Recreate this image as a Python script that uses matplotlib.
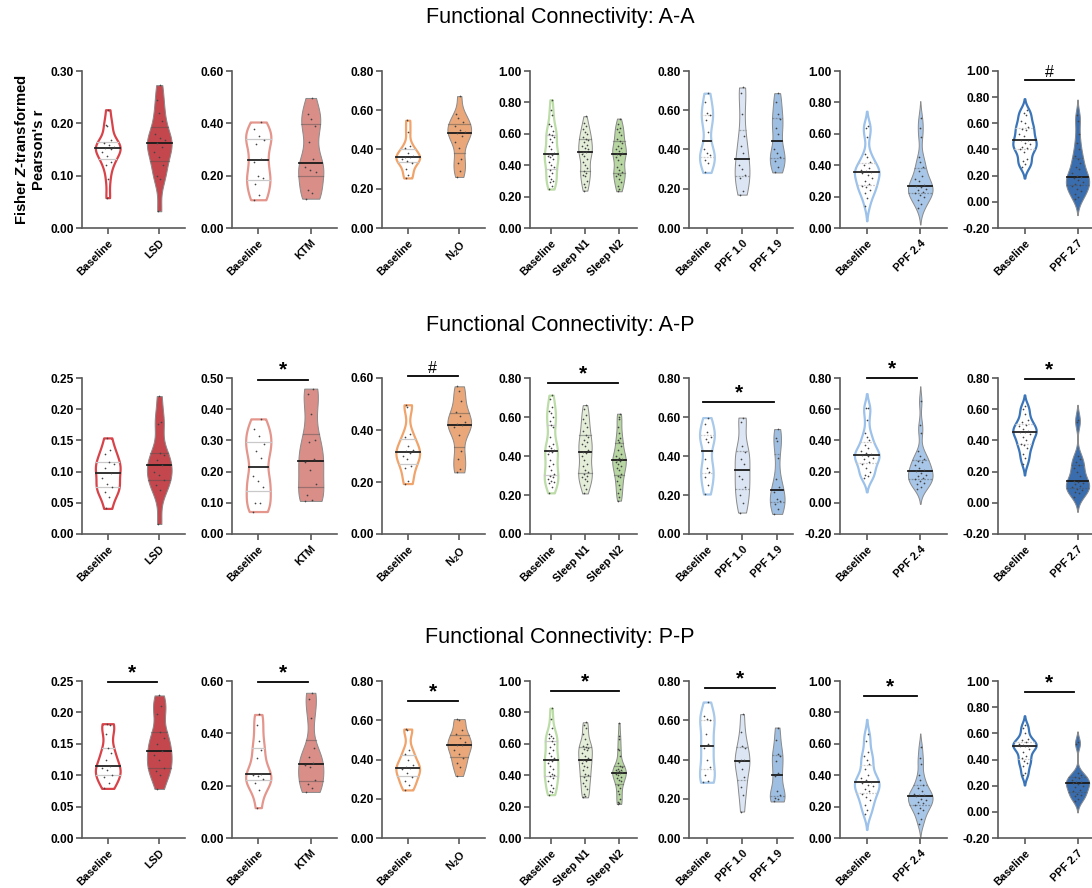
import numpy as np
import matplotlib.pyplot as plt

plt.rcParams['font.family'] = 'Liberation Sans'
plt.rcParams['mathtext.fontset'] = 'custom'
plt.rcParams['mathtext.rm'] = 'Liberation Sans:bold'
plt.rcParams['mathtext.bf'] = 'Liberation Sans:bold'
plt.rcParams['mathtext.it'] = 'Liberation Sans:bold:italic'

TITLES = ['Functional Connectivity: A-A',
          'Functional Connectivity: A-P',
          'Functional Connectivity: P-P']

LABELS = [['Baseline', 'LSD'],
          ['Baseline', 'KTM'],
          ['Baseline', r'N$_2$O'],
          ['Baseline', 'Sleep N1', 'Sleep N2'],
          ['Baseline', 'PPF 1.0', 'PPF 1.9'],
          ['Baseline', 'PPF 2.4'],
          ['Baseline', 'PPF 2.7']]

# ---- A-A ----
aa_lsd_base = [0.226, 0.196, 0.195, 0.168, 0.162, 0.158, 0.155, 0.153, 0.150, 0.145, 0.138, 0.126, 0.120, 0.094, 0.058]
aa_lsd = [0.273, 0.245, 0.220, 0.205, 0.180, 0.172, 0.168, 0.163, 0.155, 0.145, 0.135, 0.120, 0.100, 0.093, 0.032]
aa_ktm_base = [0.405, 0.380, 0.350, 0.335, 0.320, 0.265, 0.253, 0.200, 0.190, 0.170, 0.125, 0.108]
aa_ktm = [0.497, 0.435, 0.415, 0.390, 0.330, 0.265, 0.232, 0.222, 0.215, 0.145, 0.135, 0.112]
aa_n2o_base = [0.549, 0.490, 0.418, 0.410, 0.380, 0.368, 0.364, 0.360, 0.352, 0.340, 0.333, 0.300, 0.270, 0.255]
aa_n2o = [0.672, 0.580, 0.560, 0.540, 0.520, 0.500, 0.490, 0.486, 0.470, 0.440, 0.410, 0.350, 0.330, 0.290, 0.260]
aa_sleep_base = [0.817, 0.750, 0.720, 0.660, 0.650, 0.620, 0.600, 0.595, 0.580, 0.570, 0.550, 0.520, 0.500, 0.480, 0.472,
                 0.466, 0.460, 0.450, 0.440, 0.420, 0.400, 0.390, 0.370, 0.350, 0.330, 0.310, 0.300, 0.290, 0.270, 0.248]
aa_sleep_n1 = [0.712, 0.670, 0.650, 0.630, 0.610, 0.600, 0.580, 0.570, 0.560, 0.550, 0.530, 0.520, 0.510, 0.500, 0.486,
               0.482, 0.470, 0.460, 0.440, 0.420, 0.400, 0.380, 0.360, 0.350, 0.340, 0.330, 0.300, 0.280, 0.260, 0.238]
aa_sleep_n2 = [0.697, 0.660, 0.640, 0.630, 0.610, 0.590, 0.570, 0.555, 0.540, 0.520, 0.510, 0.500, 0.490, 0.480, 0.472,
               0.466, 0.450, 0.430, 0.410, 0.390, 0.370, 0.355, 0.345, 0.340, 0.330, 0.310, 0.290, 0.270, 0.250, 0.234]
aa_ppf_base = [0.687, 0.640, 0.585, 0.575, 0.550, 0.490, 0.400, 0.380, 0.370, 0.345, 0.330, 0.283]
aa_ppf10 = [0.716, 0.690, 0.580, 0.470, 0.420, 0.380, 0.320, 0.300, 0.270, 0.255, 0.190, 0.170]
aa_ppf19 = [0.687, 0.640, 0.580, 0.555, 0.510, 0.480, 0.405, 0.380, 0.360, 0.340, 0.310, 0.283]
aa_ppf24_base = [0.650, 0.640, 0.580, 0.470, 0.450, 0.420, 0.400, 0.380, 0.370, 0.360, 0.356,
                 0.352, 0.340, 0.320, 0.300, 0.280, 0.270, 0.260, 0.240, 0.220, 0.190, 0.140]
aa_ppf24 = [0.700, 0.640, 0.580, 0.450, 0.420, 0.390, 0.360, 0.330, 0.310, 0.300, 0.275,
            0.265, 0.260, 0.250, 0.240, 0.230, 0.220, 0.210, 0.200, 0.180, 0.150, 0.130]
aa_ppf27_base = [0.700, 0.680, 0.660, 0.620, 0.600, 0.570, 0.560, 0.550, 0.520, 0.500, 0.475,
                 0.469, 0.450, 0.440, 0.420, 0.410, 0.400, 0.380, 0.330, 0.310, 0.290, 0.270]
aa_ppf27 = [0.660, 0.620, 0.520, 0.450, 0.400, 0.350, 0.330, 0.300, 0.270, 0.250, 0.220, 0.196,
            0.190, 0.180, 0.170, 0.150, 0.140, 0.130, 0.120, 0.100, 0.080, 0.060, 0.040, 0.020]

# ---- A-P ----
ap_lsd_base = [0.154, 0.135, 0.128, 0.115, 0.112, 0.105, 0.098, 0.090, 0.080, 0.076, 0.068, 0.060, 0.041]
ap_lsd = [0.221, 0.180, 0.177, 0.130, 0.126, 0.118, 0.111, 0.100, 0.094, 0.087, 0.078, 0.070, 0.016]
ap_ktm_base = [0.369, 0.335, 0.315, 0.290, 0.265, 0.245, 0.185, 0.170, 0.150, 0.100, 0.098, 0.072]
ap_ktm = [0.466, 0.450, 0.385, 0.300, 0.295, 0.240, 0.230, 0.205, 0.160, 0.125, 0.110, 0.106]
ap_n2o_base = [0.497, 0.490, 0.385, 0.375, 0.340, 0.325, 0.318, 0.312, 0.300, 0.290, 0.260, 0.255, 0.205, 0.194]
ap_n2o = [0.568, 0.550, 0.510, 0.470, 0.455, 0.430, 0.422, 0.418, 0.410, 0.380, 0.320, 0.290, 0.250, 0.237]
ap_sleep_base = [0.712, 0.690, 0.650, 0.630, 0.620, 0.600, 0.580, 0.560, 0.550, 0.500, 0.460, 0.450, 0.440, 0.430, 0.427,
                 0.423, 0.410, 0.380, 0.360, 0.350, 0.330, 0.310, 0.300, 0.290, 0.280, 0.270, 0.265, 0.260, 0.240, 0.211]
ap_sleep_n1 = [0.661, 0.640, 0.610, 0.590, 0.570, 0.550, 0.530, 0.510, 0.500, 0.480, 0.470, 0.460, 0.450, 0.430, 0.421,
               0.417, 0.400, 0.380, 0.360, 0.350, 0.330, 0.320, 0.310, 0.300, 0.290, 0.280, 0.270, 0.250, 0.230, 0.208]
ap_sleep_n2 = [0.617, 0.600, 0.590, 0.550, 0.520, 0.490, 0.480, 0.470, 0.450, 0.430, 0.410, 0.400, 0.390, 0.385, 0.379,
               0.375, 0.370, 0.360, 0.350, 0.340, 0.330, 0.310, 0.300, 0.290, 0.270, 0.250, 0.230, 0.210, 0.190, 0.171]
ap_ppf_base = [0.597, 0.565, 0.525, 0.500, 0.485, 0.470, 0.386, 0.340, 0.320, 0.290, 0.250, 0.205]
ap_ppf10 = [0.597, 0.575, 0.450, 0.420, 0.385, 0.360, 0.300, 0.280, 0.240, 0.200, 0.160, 0.110]
ap_ppf19 = [0.538, 0.490, 0.475, 0.390, 0.280, 0.240, 0.216, 0.180, 0.170, 0.155, 0.130, 0.103]
ap_ppf24_base = [0.610, 0.605, 0.530, 0.450, 0.420, 0.400, 0.370, 0.350, 0.330, 0.320, 0.310,
                 0.305, 0.300, 0.290, 0.280, 0.260, 0.250, 0.220, 0.200, 0.180, 0.170, 0.160]
ap_ppf24 = [0.650, 0.500, 0.450, 0.330, 0.300, 0.280, 0.270, 0.260, 0.240, 0.220, 0.210,
            0.202, 0.190, 0.180, 0.170, 0.160, 0.150, 0.140, 0.130, 0.120, 0.100, 0.090]
ap_ppf27_base = [0.620, 0.600, 0.570, 0.530, 0.520, 0.500, 0.490, 0.470, 0.460, 0.457,
                 0.453, 0.440, 0.420, 0.400, 0.380, 0.370, 0.350, 0.310, 0.290, 0.250]
ap_ppf27 = [0.530, 0.520, 0.300, 0.280, 0.260, 0.240, 0.220, 0.200, 0.170, 0.140,
            0.136, 0.130, 0.120, 0.110, 0.100, 0.090, 0.080, 0.070, 0.060, 0.040]

# ---- P-P ----
pp_lsd_base = [0.182, 0.180, 0.165, 0.143, 0.135, 0.125, 0.114, 0.112, 0.108, 0.100, 0.097, 0.088, 0.079]
pp_lsd = [0.227, 0.210, 0.198, 0.168, 0.160, 0.150, 0.138, 0.132, 0.125, 0.112, 0.107, 0.100, 0.078]
pp_ktm_base = [0.472, 0.430, 0.370, 0.335, 0.305, 0.246, 0.242, 0.237, 0.225, 0.212, 0.185, 0.116]
pp_ktm = [0.555, 0.530, 0.460, 0.345, 0.310, 0.286, 0.280, 0.270, 0.220, 0.205, 0.190, 0.176]
pp_n2o_base = [0.555, 0.550, 0.450, 0.430, 0.400, 0.372, 0.362, 0.356, 0.350, 0.330, 0.310, 0.290, 0.270, 0.245]
pp_n2o = [0.606, 0.600, 0.550, 0.530, 0.510, 0.490, 0.476, 0.472, 0.450, 0.430, 0.410, 0.380, 0.360, 0.316]
pp_sleep_base = [0.827, 0.760, 0.700, 0.660, 0.650, 0.640, 0.635, 0.620, 0.600, 0.580, 0.560, 0.540, 0.520, 0.510, 0.497,
                 0.493, 0.480, 0.460, 0.440, 0.420, 0.410, 0.400, 0.395, 0.380, 0.360, 0.340, 0.320, 0.300, 0.290, 0.276]
pp_sleep_n1 = [0.737, 0.720, 0.700, 0.660, 0.630, 0.600, 0.585, 0.580, 0.575, 0.570, 0.560, 0.540, 0.520, 0.510, 0.497,
               0.493, 0.480, 0.460, 0.450, 0.430, 0.410, 0.400, 0.390, 0.370, 0.350, 0.330, 0.310, 0.280, 0.270, 0.259]
pp_sleep_n2 = [0.733, 0.650, 0.630, 0.570, 0.560, 0.520, 0.480, 0.460, 0.450, 0.440, 0.435, 0.430, 0.425, 0.420, 0.418,
               0.416, 0.410, 0.400, 0.390, 0.380, 0.370, 0.360, 0.340, 0.320, 0.300, 0.280, 0.250, 0.230, 0.220, 0.217]
pp_ppf_base = [0.693, 0.620, 0.605, 0.600, 0.530, 0.480, 0.460, 0.400, 0.360, 0.320, 0.290, 0.284]
pp_ppf10 = [0.631, 0.540, 0.470, 0.460, 0.400, 0.395, 0.385, 0.350, 0.310, 0.260, 0.220, 0.135]
pp_ppf19 = [0.563, 0.500, 0.430, 0.420, 0.390, 0.330, 0.316, 0.240, 0.220, 0.205, 0.200, 0.186]
pp_ppf24_base = [0.660, 0.620, 0.550, 0.520, 0.500, 0.470, 0.440, 0.400, 0.380, 0.370, 0.356,
                 0.352, 0.340, 0.330, 0.310, 0.300, 0.280, 0.260, 0.240, 0.210, 0.180, 0.150]
pp_ppf24 = [0.580, 0.510, 0.470, 0.400, 0.370, 0.340, 0.320, 0.300, 0.280, 0.275, 0.272,
            0.268, 0.250, 0.240, 0.230, 0.220, 0.210, 0.190, 0.180, 0.160, 0.120, 0.090]
pp_ppf27_base = [0.660, 0.640, 0.600, 0.560, 0.550, 0.530, 0.520, 0.510, 0.507, 0.503,
                 0.500, 0.480, 0.460, 0.430, 0.410, 0.390, 0.370, 0.350, 0.300, 0.280]
pp_ppf27 = [0.530, 0.520, 0.300, 0.280, 0.270, 0.260, 0.240, 0.230, 0.228, 0.224,
            0.210, 0.200, 0.190, 0.170, 0.160, 0.140, 0.130, 0.120, 0.100, 0.080]

ROWS = [
    [[aa_lsd_base, aa_lsd], [aa_ktm_base, aa_ktm], [aa_n2o_base, aa_n2o],
     [aa_sleep_base, aa_sleep_n1, aa_sleep_n2], [aa_ppf_base, aa_ppf10, aa_ppf19],
     [aa_ppf24_base, aa_ppf24], [aa_ppf27_base, aa_ppf27]],
    [[ap_lsd_base, ap_lsd], [ap_ktm_base, ap_ktm], [ap_n2o_base, ap_n2o],
     [ap_sleep_base, ap_sleep_n1, ap_sleep_n2], [ap_ppf_base, ap_ppf10, ap_ppf19],
     [ap_ppf24_base, ap_ppf24], [ap_ppf27_base, ap_ppf27]],
    [[pp_lsd_base, pp_lsd], [pp_ktm_base, pp_ktm], [pp_n2o_base, pp_n2o],
     [pp_sleep_base, pp_sleep_n1, pp_sleep_n2], [pp_ppf_base, pp_ppf10, pp_ppf19],
     [pp_ppf24_base, pp_ppf24], [pp_ppf27_base, pp_ppf27]],
]

# y axis ranges (min, max, step)
YRANGES = [
    [(0, 0.30, 0.10), (0, 0.60, 0.20), (0, 0.80, 0.20), (0, 1.00, 0.20), (0, 0.80, 0.20), (0, 1.00, 0.20), (-0.20, 1.00, 0.20)],
    [(0, 0.25, 0.05), (0, 0.50, 0.10), (0, 0.60, 0.20), (0, 0.80, 0.20), (0, 0.80, 0.20), (-0.20, 0.80, 0.20), (-0.20, 0.80, 0.20)],
    [(0, 0.25, 0.05), (0, 0.60, 0.20), (0, 0.80, 0.20), (0, 1.00, 0.20), (0, 0.80, 0.20), (0, 1.00, 0.20), (-0.20, 1.00, 0.20)],
]

# significance bars: (column, x1, x2, bar height, symbol)
SIGNIF = [
    [(6, 1.0, 1.93, 0.93, '#')],
    [(1, 1.0, 1.95, 0.494, '*'), (2, 1.0, 1.97, 0.608, '#'), (3, 0.92, 2.97, 0.774, '*'),
     (4, 0.9, 2.9, 0.677, '*'), (5, 1.0, 1.93, 0.80, '*'), (6, 1.0, 1.93, 0.794, '*')],
    [(0, 1.0, 1.95, 0.248, '*'), (1, 1.0, 1.95, 0.596, '*'), (2, 1.0, 1.97, 0.698, '*'),
     (3, 1.0, 3.0, 0.936, '*'), (4, 0.95, 2.95, 0.764, '*'), (5, 0.95, 1.93, 0.904, '*'),
     (6, 1.0, 1.93, 0.916, '*')],
]

# per column: (open/filled, colour) for each group
STYLES = [
    [('open', '#D8434A'), ('fill', '#C4474E')],
    [('open', '#E4968D'), ('fill', '#D98E88')],
    [('open', '#F0A46C'), ('fill', '#E9A77A')],
    [('open', '#BCDCA8'), ('fill', '#E3EDD8'), ('fill', '#B7D6A2')],
    [('open', '#A8C9EA'), ('fill', '#DBE5F3'), ('fill', '#9EBEE2')],
    [('open', '#9CC1EA'), ('fill', '#A8C6E7')],
    [('open', '#3B75B9'), ('fill', '#3A6DAE')],
]
EXTENDED = [False, False, False, False, False, True, True]
HALF = [0.24, 0.24, 0.23, 0.2, 0.21, 0.23, 0.22]
XLIMS = [(0.5, 2.5), (0.5, 2.5), (0.5, 2.5), (0.38, 3.53), (0.49, 3.45), (0.5, 2.5), (0.5, 2.5)]
QSTYLE = ['-', '-', '-', '-', (0, (1.5, 1)), (0, (1.5, 1)), (0, (1.5, 1))]

COL_LEFT = [82, 232, 382, 530, 689, 840, 998]
COL_WIDTH = [103, 105, 103, 107, 104, 107, 106]
ROW_TOP = [71, 378, 681]
ROW_BOTTOM = [228, 534, 838]
W, H = 1092, 888


def density(vals, grid, bw):
    z = (grid[:, None] - vals[None, :]) / bw
    return np.exp(-0.5 * z ** 2).sum(axis=1)


def draw_violin(ax, pos, vals, kind, color, extend, half, qstyle):
    vals = np.asarray(vals, float)
    n = vals.size
    bw = 0.65 * vals.std(ddof=1) * n ** (-0.2)
    lo, hi = vals.min(), vals.max()
    if extend:
        lo, hi = lo - 2.0 * bw, hi + 2.0 * bw
    grid = np.linspace(lo, hi, 400)
    w = density(vals, grid, bw)
    w = w / w.max() * half
    if kind == 'open':
        ax.fill_betweenx(grid, pos - w, pos + w, facecolor='white', edgecolor=color,
                         lw=1.6, zorder=2)
        qcol, mcol = '#c9c9c9', '#222222'
    else:
        ax.fill_betweenx(grid, pos - w, pos + w, facecolor=color, edgecolor='#8a8a8a',
                         lw=0.7, zorder=2)
        qcol, mcol = (0.3, 0.3, 0.3, 0.45), '#1a1a1a'
    q1, med, q3 = np.percentile(vals, [25, 50, 75])
    for q in (q1, q3):
        hw = np.interp(q, grid, w)
        ax.plot([pos - hw, pos + hw], [q, q], color=qcol, lw=0.9, ls=qstyle, zorder=3)
    hw = np.interp(med, grid, w)
    ax.plot([pos - hw, pos + hw], [med, med], color=mcol, lw=1.3, zorder=3)

    ys = np.sort(vals)
    frac = (np.arange(n) * 0.618034) % 1.0
    spread = np.interp(ys, grid, w)
    ax.scatter(pos + (frac - 0.5) * 1.1 * spread, ys, s=1.5, c='#444444', lw=0, zorder=4)


fig = plt.figure(figsize=(W / 100, H / 100), dpi=100)

for r in range(3):
    for c in range(7):
        left = COL_LEFT[c] / W
        bottom = 1 - ROW_BOTTOM[r] / H
        ax = fig.add_axes([left, bottom, COL_WIDTH[c] / W, (ROW_BOTTOM[r] - ROW_TOP[r]) / H])
        ax.patch.set_alpha(0)
        groups = ROWS[r][c]
        for i, vals in enumerate(groups):
            kind, color = STYLES[c][i]
            draw_violin(ax, i + 1, vals, kind, color, EXTENDED[c], HALF[c], QSTYLE[c])

        ymin, ymax, step = YRANGES[r][c]
        ticks = np.arange(ymin, ymax + step / 2, step)
        ax.set_ylim(ymin, ymax)
        ax.set_yticks(ticks)
        ax.set_yticklabels([f'{t:.2f}' for t in ticks], fontsize=8.6, fontweight='bold')
        ax.set_xlim(*XLIMS[c])
        ax.set_xticks(range(1, len(groups) + 1))
        ax.set_xticklabels(LABELS[c], rotation=45, ha='right', va='top',
                           rotation_mode='anchor', fontsize=7.9, fontweight='bold')
        for side in ('top', 'right'):
            ax.spines[side].set_visible(False)
        for side in ('left', 'bottom'):
            ax.spines[side].set_color('#5a5a5a')
            ax.spines[side].set_linewidth(1.2)
        ax.tick_params(color='#5a5a5a', width=1.2, length=4, labelcolor='black', pad=2)
        ax.tick_params(axis='x', pad=3)

        for col, x1, x2, yb, sym in SIGNIF[r]:
            if col != c:
                continue
            ax.plot([x1, x2], [yb, yb], color='black', lw=1.3, clip_on=False, zorder=5)
            if sym == '*':
                ax.text((x1 + x2) / 2, yb, sym, ha='center', va='bottom',
                        fontsize=15, fontweight='bold', clip_on=False)
            else:
                ax.text((x1 + x2) / 2, yb, sym, ha='center', va='bottom',
                        fontsize=11.5, clip_on=False)

    fig.text(560 / W, 1 - [18, 325, 637][r] / H, TITLES[r], ha='center', va='center', fontsize=15.5)

fig.text(30 / W, 1 - 150 / H, "Fisher $Z$-transformed\nPearson's r", rotation=90,
         ha='center', va='center', fontsize=10.7, fontweight='bold',
         multialignment='center', linespacing=1.3)

fig.savefig('out.png', dpi=100)
